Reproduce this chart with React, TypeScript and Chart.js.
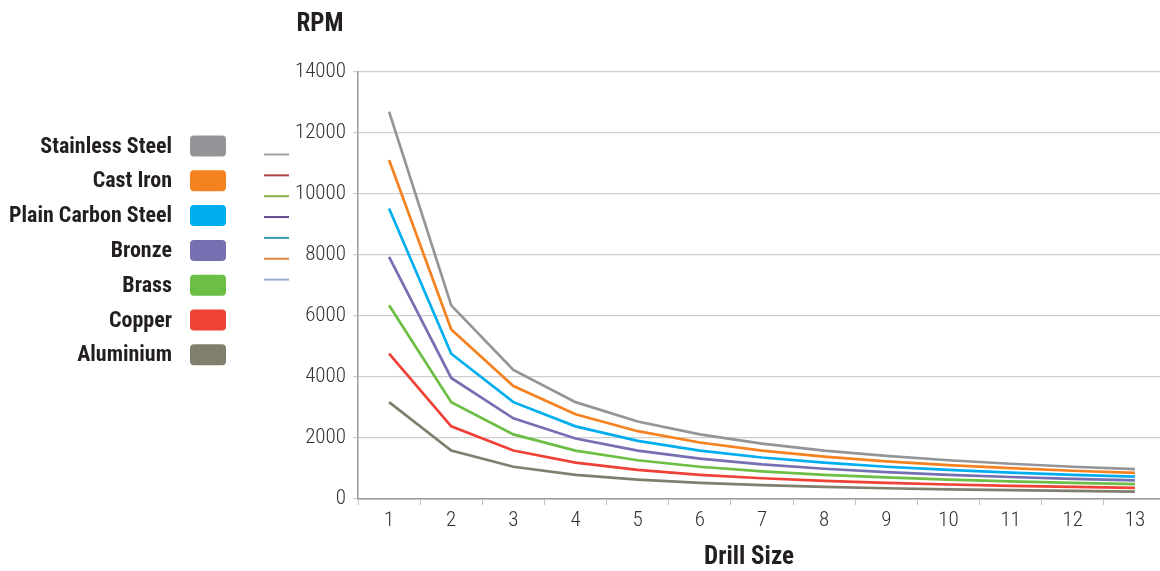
import React, { useEffect, useRef } from "react";
import { Chart, registerables } from "chart.js";

Chart.register(...registerables);

const drillSizes = ["1", "2", "3", "4", "5", "6", "7", "8", "9", "10", "11", "12", "13"];

const materials = ["Stainless Steel", "Cast Iron", "Plain Carbon Steel", "Bronze", "Brass", "Copper", "Aluminium"];

const stainlessSteel = [12700, 6350, 4233, 3175, 2540, 2117, 1814, 1588, 1411, 1270, 1155, 1058, 977];
const castIron = [11113, 5556, 3704, 2778, 2223, 1852, 1588, 1389, 1235, 1111, 1010, 926, 855];
const plainCarbonSteel = [9525, 4763, 3175, 2381, 1905, 1588, 1361, 1191, 1058, 953, 866, 794, 733];
const bronze = [7938, 3969, 2646, 1984, 1588, 1323, 1134, 992, 882, 794, 722, 661, 611];
const brass = [6350, 3175, 2117, 1588, 1270, 1058, 907, 794, 706, 635, 577, 529, 488];
const copper = [4763, 2381, 1588, 1191, 953, 794, 680, 595, 529, 476, 433, 397, 366];
const aluminium = [3175, 1588, 1058, 794, 635, 529, 454, 397, 353, 318, 289, 265, 244];

const seriesValues = [stainlessSteel, castIron, plainCarbonSteel, bronze, brass, copper, aluminium];
const seriesColors = ["#939598", "#f58220", "#00aeef", "#7670b3", "#6cbe45", "#ef4136", "#807f6e"];
const smallLineColors = ["#a0a0a2", "#b0403e", "#8cae4c", "#5f4b8b", "#3b9bb0", "#e0863c", "#98aed6"];

const yAxisTitle = "RPM";
const xAxisTitle = "Drill Size";

const FONT = "'Roboto Condensed', 'Open Sans Condensed', sans-serif";
const TEXT = "#231f20";

const extrasPlugin = {
  id: "extras",
  afterDraw(chart: any) {
    const ctx = chart.ctx;
    ctx.save();
    ctx.fillStyle = TEXT;
    ctx.font = `bold 25px ${FONT}`;
    ctx.textAlign = "center";
    ctx.textBaseline = "middle";
    ctx.fillText(yAxisTitle, 320, 25);
    ctx.fillText(xAxisTitle, 749, 558);

    const rowY0 = 146;
    const rowGap = 34.8;
    ctx.font = `bold 22px ${FONT}`;
    ctx.textAlign = "right";
    materials.forEach((m, i) => {
      const y = rowY0 + i * rowGap;
      ctx.fillStyle = TEXT;
      ctx.fillText(m, 172, y + 1);
      ctx.fillStyle = seriesColors[i];
      ctx.beginPath();
      (ctx as any).roundRect(190, y - 10.5, 36, 21, 4);
      ctx.fill();
    });

    smallLineColors.forEach((c, i) => {
      const y = 154.5 + i * 20.85;
      ctx.strokeStyle = c;
      ctx.lineWidth = 2;
      ctx.beginPath();
      ctx.moveTo(264, y);
      ctx.lineTo(289, y);
      ctx.stroke();
    });
    ctx.restore();
  },
};

export default function App() {
  const ref = useRef<HTMLCanvasElement | null>(null);

  useEffect(() => {
    if (!ref.current) return;
    const chart = new Chart(ref.current, {
      type: "line",
      data: {
        labels: drillSizes,
        datasets: materials.map((m, i) => ({
          label: m,
          data: seriesValues[i],
          borderColor: seriesColors[i],
          backgroundColor: seriesColors[i],
          borderWidth: 2.7,
          pointRadius: 0,
          tension: 0,
          fill: false,
        })),
      },
      options: {
        responsive: false,
        animation: false,
        devicePixelRatio: 1,
        layout: { padding: { left: 0, top: 72, right: 4, bottom: 0 } },
        plugins: {
          legend: { display: false },
          tooltip: { enabled: false },
        },
        scales: {
          x: {
            type: "category",
            offset: true,
            grid: {
              offset: true,
              drawOnChartArea: false,
              drawTicks: true,
              tickLength: 6,
              color: "#c4c4c4",
            },
            border: { color: "#9a9a9a", width: 1.5 },
            ticks: {
              padding: 3,
              color: "#333",
              font: { family: FONT, size: 21, weight: "300" },
              maxRotation: 0,
            },
            afterFit: (scale: any) => {
              scale.height = 72;
            },
          },
          y: {
            min: 0,
            max: 14000,
            ticks: {
              stepSize: 2000,
              padding: 7,
              color: "#333",
              font: { family: FONT, size: 21, weight: "300" },
              callback: (v: any) => String(v),
            },
            grid: {
              color: "#cfcfcf",
              lineWidth: 1.2,
              tickLength: 5,
            },
            border: { color: "#9a9a9a", width: 1.5 },
            afterFit: (scale: any) => {
              scale.width = 358;
            },
          },
        },
      },
      plugins: [extrasPlugin],
    });
    return () => chart.destroy();
  }, []);

  return (
    <div
      style={{
        position: "absolute",
        left: 0,
        top: 0,
        width: 1160,
        height: 571,
        overflow: "hidden",
        background: "#fff",
      }}
    >
      <canvas ref={ref} width={1170} height={571} style={{ display: "block" }} />
    </div>
  );
}
